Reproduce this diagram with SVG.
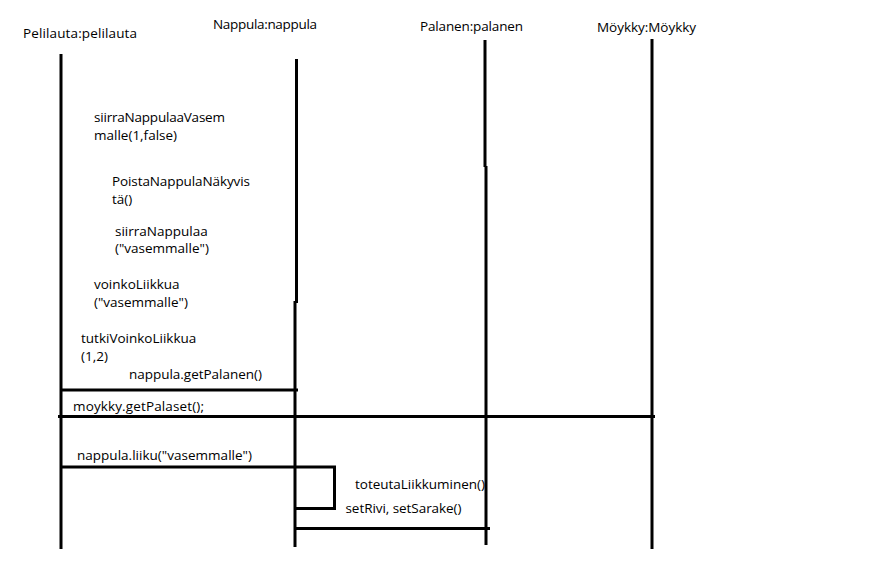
<svg xmlns="http://www.w3.org/2000/svg" width="886" height="579" viewBox="0 0 886 579">
<style>
text{font-family:"Open Sans","Noto Sans","Liberation Sans",sans-serif;font-size:13.5px;fill:#000}
.ll{stroke:#000;stroke-width:3;fill:none}
.msg{stroke:#000;stroke-width:3;fill:none}
</style>
<rect width="886" height="579" fill="#fff"/>
<g id="pelilauta">
<text x="23" y="38" textLength="114">Pelilauta:pelilauta</text>
<path class="ll" d="M61,54 V549"/>
</g>
<g id="nappula">
<text x="213" y="29" textLength="104">Nappula:nappula</text>
<path class="ll" d="M296.5,59 V303 M295,301 V547"/>
</g>
<g id="palanen">
<text x="420" y="31" textLength="103">Palanen:palanen</text>
<path class="ll" d="M485,40 V167 M486,166 V545"/>
</g>
<g id="moykky">
<text x="597" y="32" textLength="99">Möykky:Möykky</text>
<path class="ll" d="M652,39 V549"/>
</g>
<g id="connectors">
<path class="msg" d="M62,390 H298"/>
<path class="msg" d="M58,416.5 H655"/>
<path class="msg" d="M61,467 H334.5 V508.5 H295"/>
<path class="msg" d="M295,528.5 H490"/>
</g>
<g id="labels">
<text x="94" y="122" textLength="131">siirraNappulaaVasem</text>
<text x="94" y="140">malle(1,false)</text>
<text x="112" y="186" textLength="138">PoistaNappulaNäkyvis</text>
<text x="112" y="204">tä()</text>
<text x="115" y="236">siirraNappulaa</text>
<text x="115" y="253">("vasemmalle")</text>
<text x="94" y="289">voinkoLiikkua</text>
<text x="94" y="307">("vasemmalle")</text>
<text x="81" y="343">tutkiVoinkoLiikkua</text>
<text x="81" y="361">(1,2)</text>
<text x="129" y="379" textLength="133">nappula.getPalanen()</text>
<text x="73" y="411" textLength="131">moykky.getPalaset();</text>
<text x="77" y="460" textLength="175">nappula.liiku("vasemmalle")</text>
<text x="355" y="489" textLength="130">toteutaLiikkuminen()</text>
<text x="345.5" y="513" textLength="116">setRivi, setSarake()</text>
</g>
</svg>
